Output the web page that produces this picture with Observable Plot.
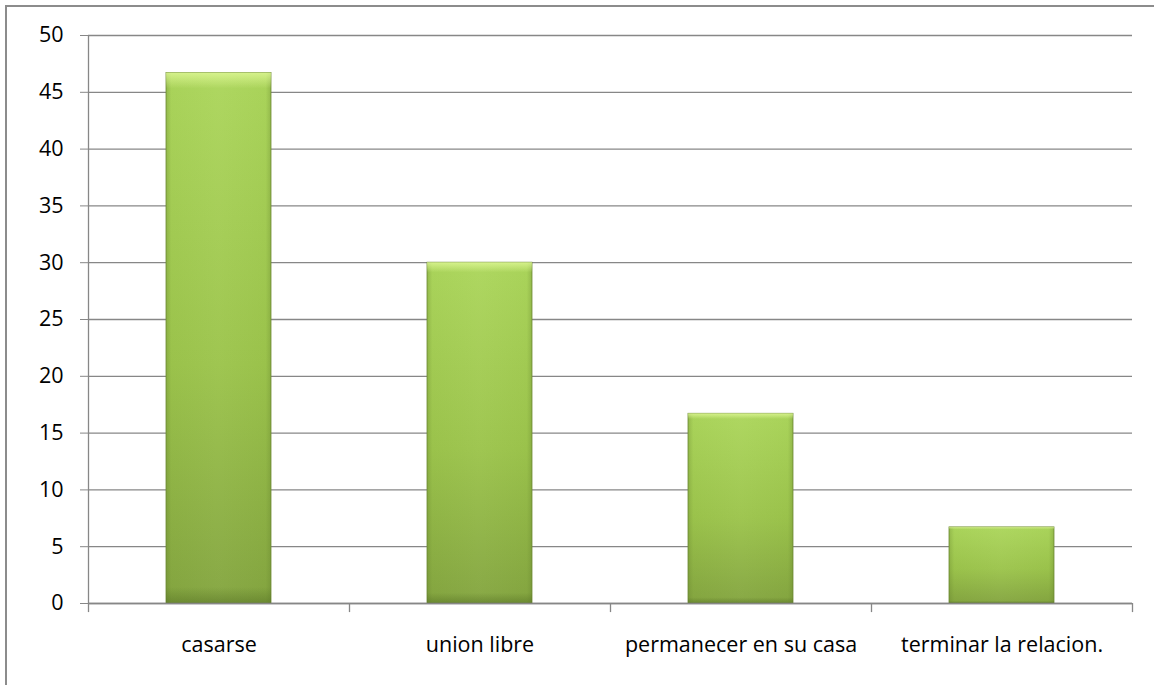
<!DOCTYPE html>
<html>
<head>
<meta charset="utf-8">
<script src="https://cdn.jsdelivr.net/npm/d3@7"></script>
<script src="https://cdn.jsdelivr.net/npm/@observablehq/plot@0.6"></script>
<style>
  html, body { margin: 0; padding: 0; background: #fff; overflow: hidden; }
  #frame { position: absolute; left: 5px; top: 5px; width: 1300px; height: 800px;
           border-left: 2px solid #8c8c8c; border-top: 2px solid #8c8c8c; }
  #chart { position: absolute; left: 0; top: 0; }
</style>
</head>
<body>
<div id="frame"></div>
<div id="chart"></div>
<script>
const categories = ["casarse", "union libre", "permanecer en su casa", "terminar la relacion."];
const values = [46.7, 30, 16.7, 6.7];
const yTicks = [0, 5, 10, 15, 20, 25, 30, 35, 40, 45, 50];

const data = categories.map((c, i) => ({category: c, value: values[i]}));
const firstCat = [categories[0]];
const lastCat = [categories[categories.length - 1]];

const W = 1154, H = 685;
const mL = 88, mR = 22, mT = 35, mB = 82;
const band = (W - mL - mR) / categories.length;
const gray = "#878787";

const plot = Plot.plot({
  width: W,
  height: H,
  marginLeft: mL,
  marginRight: mR,
  marginTop: mT,
  marginBottom: mB,
  style: {fontFamily: "'Open Sans', sans-serif", fontSize: "21px", color: "#000", background: "transparent"},
  x: {domain: categories, paddingInner: 0.598, paddingOuter: 0.299, label: null},
  y: {domain: [0, 50], label: null},
  marks: [
    Plot.ruleY(yTicks, {stroke: gray, strokeWidth: 1.3}),
    Plot.axisY({ticks: yTicks, tickSize: 8, tickPadding: 17, stroke: gray, fontSize: 21.5, tickFormat: d => String(d)}),
    Plot.axisX({tickSize: 0, tickPadding: 33, fontSize: 21.5}),
    Plot.barY(data, {x: "category", y: "value", fill: "url(#barV)", stroke: "#6e8a36", strokeWidth: 0.8}),
    Plot.barY(data, {x: "category", y: "value", fill: "url(#barH)"}),
    Plot.barY(data, {x: "category", y: "value", fill: "url(#barTop)"}),
    Plot.ruleX(categories, {x: d => d, dx: -band / 2, y1: 0, y2: -0.8, stroke: gray, strokeWidth: 1.3}),
    Plot.ruleX(lastCat, {x: d => d, dx: band / 2, y1: 0, y2: -0.8, stroke: gray, strokeWidth: 1.3}),
    Plot.ruleX(firstCat, {x: d => d, dx: -band / 2, y1: 0, y2: 50, stroke: gray, strokeWidth: 1.3}),
    Plot.ruleY([0], {stroke: gray, strokeWidth: 1.3})
  ]
});

const ns = "http://www.w3.org/2000/svg";
const defs = document.createElementNS(ns, "defs");
defs.innerHTML = `
  <linearGradient id="barV" x1="0" y1="0" x2="0" y2="1">
    <stop offset="0" stop-color="#acd65c"/>
    <stop offset="0.55" stop-color="#9cc44c"/>
    <stop offset="1" stop-color="#84a540"/>
  </linearGradient>
  <linearGradient id="barH" x1="0" y1="0" x2="1" y2="0">
    <stop offset="0" stop-color="#5d7a28" stop-opacity="0.3"/>
    <stop offset="0.05" stop-color="#5d7a28" stop-opacity="0.03"/>
    <stop offset="0.5" stop-color="#ffffff" stop-opacity="0.03"/>
    <stop offset="0.95" stop-color="#5d7a28" stop-opacity="0.03"/>
    <stop offset="1" stop-color="#5d7a28" stop-opacity="0.3"/>
  </linearGradient>
  <linearGradient id="barTop" x1="0" y1="0" x2="0" y2="1">
    <stop offset="0" stop-color="#e8ffa0" stop-opacity="0.7"/>
    <stop offset="0.03" stop-color="#e8ffa0" stop-opacity="0.0"/>
    <stop offset="0.97" stop-color="#4f6a20" stop-opacity="0.0"/>
    <stop offset="1" stop-color="#4f6a20" stop-opacity="0.45"/>
  </linearGradient>`;
plot.insertBefore(defs, plot.firstChild);
document.getElementById("chart").appendChild(plot);
</script>
</body>
</html>
